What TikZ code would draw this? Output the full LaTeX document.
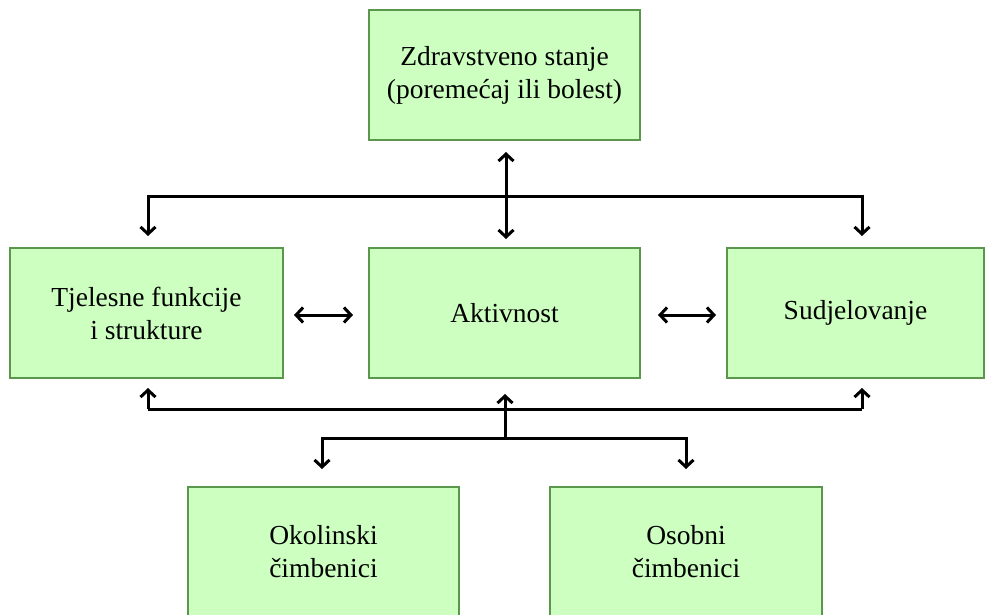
\documentclass[tikz,border=0pt]{standalone}
\usepackage{fontspec}
\setmainfont{Liberation Serif}
\usetikzlibrary{arrows.meta}
\definecolor{boxfill}{RGB}{204,255,192}
\definecolor{boxline}{RGB}{90,150,75}
\tikzset{
  box/.style={draw=boxline, fill=boxfill, line width=1.4pt, inner sep=0pt,
    align=center, font=\fontsize{27.5}{33}\selectfont, anchor=center},
  tipb/.tip={Straight Barb[length=7pt,width=15pt,line width=3pt]},
  conn/.style={line width=3pt, draw=black, arrows={-tipb}},
  dconn/.style={line width=3pt, draw=black, arrows={tipb-tipb}},
  plain/.style={line width=3pt, draw=black}
}
\begin{document}
\begin{tikzpicture}[x=1pt,y=-1pt]
\useasboundingbox (0,0) rectangle (985,615);
\node[box, minimum width=271pt, minimum height=130pt] (zdr) at (504.5,75) {Zdravstveno stanje\\(poremećaj ili bolest)};
\node[box, minimum width=273pt, minimum height=130pt] (tfs) at (146.5,313) {Tjelesne funkcije\\i strukture};
\node[box, minimum width=271pt, minimum height=130pt] (akt) at (504.5,313) {Aktivnost};
\node[box, minimum width=257pt, minimum height=130pt] (sud) at (855.5,313) {Sudjelovanje};
\node[box, minimum width=271pt, minimum height=130pt] (oko) at (323.5,552) {Okolinski\\čimbenici};
\node[box, minimum width=272pt, minimum height=130pt] (oso) at (686,552) {Osobni\\čimbenici};
% top tree
\coordinate (ztip) at (506,152);
\coordinate (atip) at (506,239);
\coordinate (tm) at (506,196);
\coordinate (tl) at (148,196);
\coordinate (tr) at (862,196);
\coordinate (ttip) at (148,236);
\coordinate (stip) at (862,236);
\draw[dconn] (ztip) -- (atip);
\draw[conn] (tm) -- (tl) -- (ttip);
\draw[conn] (tm) -- (tr) -- (stip);
% horizontal
\coordinate (h1a) at (294,315);
\coordinate (h1b) at (353,315);
\coordinate (h2a) at (658,315);
\coordinate (h2b) at (716,315);
\draw[dconn] (h1a) -- (h1b);
\draw[dconn] (h2a) -- (h2b);
% bottom tree
\coordinate (bl) at (148,409);
\coordinate (br) at (862,409);
\coordinate (btl) at (148,388);
\coordinate (btr) at (862,388);
\coordinate (bm) at (505,438);
\coordinate (bmtip) at (505,394);
\coordinate (ll) at (322,438);
\coordinate (lr) at (686,438);
\coordinate (lltip) at (322,469);
\coordinate (lrtip) at (686,469);
\draw[conn] (bm) -- (bmtip);
\draw[plain] (bl) -- (br);
\draw[conn] (bl) -- (btl);
\draw[conn] (br) -- (btr);
\draw[conn] (bm) -- (ll) -- (lltip);
\draw[conn] (bm) -- (lr) -- (lrtip);
\end{tikzpicture}
\end{document}
